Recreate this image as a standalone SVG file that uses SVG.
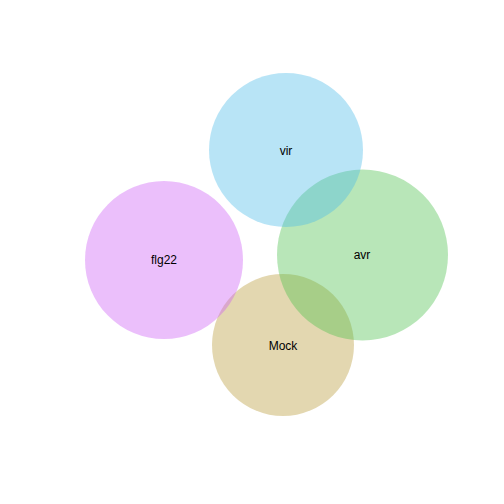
<svg xmlns="http://www.w3.org/2000/svg" width="504" height="504" viewBox="0 0 504 504">
<style>
.c{fill-opacity:0.4;stroke:none}
.t{font-family:"Liberation Sans",Arial,sans-serif;font-size:12px;fill:#000;text-anchor:middle}
</style>
<rect width="504" height="504" fill="#fff"/>
<g id="Mock"><circle class="c" cx="283" cy="345" r="71" fill="#B89A3A"/></g>
<g id="flg22"><circle class="c" cx="164" cy="260" r="79" fill="#CD5FF5"/></g>
<g id="avr"><circle class="c" cx="362.5" cy="255" r="85.5" fill="#4EC04E"/></g>
<g id="vir"><circle class="c" cx="286" cy="150" r="77" fill="#4EBCE8"/></g>
<g id="labels">
<text class="t" x="286" y="155">vir</text>
<text class="t" x="362" y="259">avr</text>
<text class="t" x="164" y="264">flg22</text>
<text class="t" x="283" y="350">Mock</text>
</g>
<g id="connectors"/>
</svg>
